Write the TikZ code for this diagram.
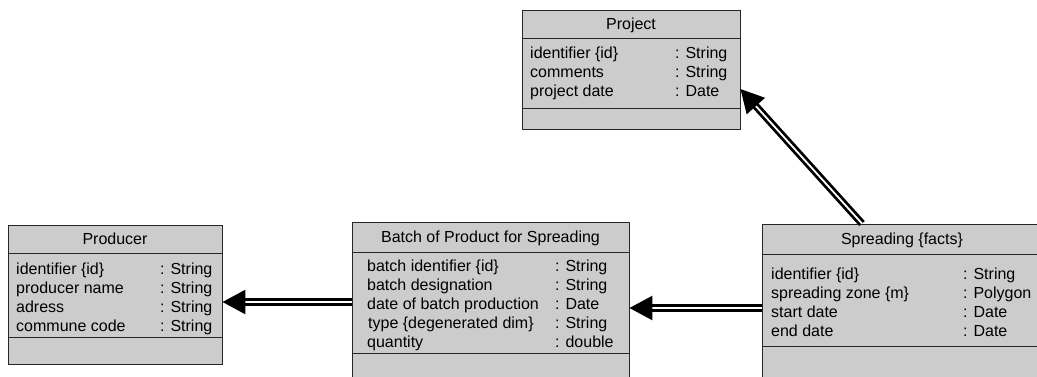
\documentclass[tikz,border=0pt]{standalone}
\usepackage{fontspec}
\setmainfont{Liberation Sans}
\usetikzlibrary{arrows.meta}
\definecolor{classGray}{RGB}{204,204,204}

\begin{document}
\begin{tikzpicture}[x=1pt,y=-1pt]

\def\rowsep{19pt}

\tikzstyle{umlClass}=[rectangle,draw=black!85,fill=classGray,line width=0.9pt,inner sep=0pt]
\tikzstyle{umlLine}=[draw=black!85,line width=0.9pt]
\tikzstyle{umlTitle}=[inner sep=0pt,text height=11.5pt,text depth=0pt,font=\fontsize{16}{\rowsep}\selectfont]
\tikzstyle{umlAttr}=[inner sep=0pt,anchor=base west,font=\fontsize{16}{\rowsep}\selectfont]
\tikzstyle{umlArrow}=[draw=black,line width=2.8pt,double=white,double distance=1.8pt,-{Triangle[length=23pt,width=24pt]}]

\useasboundingbox (0,0) rectangle (1037,376);

%Classes
\node[umlClass,minimum width=218pt,minimum height=119pt] (project) at (631,69.5) {};
\node[umlClass,minimum width=214pt,minimum height=139pt] (producer) at (115,294.5) {};
\node[umlClass,minimum width=277pt,minimum height=162pt] (batch) at (490.5,303) {};
\node[umlClass,minimum width=280pt,minimum height=160pt] (spreading) at (902,304) {};

%Compartments
\draw[umlLine] (project.west |- 0,38) -- (project.east |- 0,38);
\draw[umlLine] (project.west |- 0,108) -- (project.east |- 0,108);
\draw[umlLine] (producer.west |- 0,253) -- (producer.east |- 0,253);
\draw[umlLine] (producer.west |- 0,337) -- (producer.east |- 0,337);
\draw[umlLine] (batch.west |- 0,252) -- (batch.east |- 0,252);
\draw[umlLine] (batch.west |- 0,353) -- (batch.east |- 0,353);
\draw[umlLine] (spreading.west |- 0,254) -- (spreading.east |- 0,254);
\draw[umlLine] (spreading.west |- 0,346) -- (spreading.east |- 0,346);

%Titles
\node[umlTitle] (projectTitle) at (project.center |- 0,24) {Project};
\node[umlTitle] (producerTitle) at (producer.center |- 0,239) {Producer};
\node[umlTitle] (batchTitle) at (batch.center |- 0,237) {Batch of Product for Spreading};
\node[umlTitle] (spreadingTitle) at (spreading.center |- 0,239) {Spreading \{facts\}};

%Attributes
\node[umlAttr] (projectAttr) at (530,58.8) {\begin{tabular}[t]{@{}p{145pt}@{}l@{}}
identifier \{id\} & : String\\
comments & : String\\
project date & : Date
\end{tabular}};
\node[umlAttr] (producerAttr) at (16,274) {\begin{tabular}[t]{@{}p{144pt}@{}l@{}}
identifier \{id\} & : String\\
producer name & : String\\
adress & : String\\
commune code & : String
\end{tabular}};
\node[umlAttr] (batchAttr) at (367,271) {\begin{tabular}[t]{@{}p{188pt}@{}l@{}}
batch identifier \{id\} & : String\\
batch designation & : String\\
date of batch production & : Date\\
\hspace{1pt}type \{degenerated dim\} & : String\\
quantity & : double
\end{tabular}};
\node[umlAttr] (spreadingAttr) at (771,279) {\begin{tabular}[t]{@{}p{192pt}@{}l@{}}
identifier \{id\} & : String\\
spreading zone \{m\} & : Polygon\\
start date & : Date\\
end date & : Date
\end{tabular}};

%Associations
\draw[umlArrow] (batch.west |- 0,302) -- (producer.east |- 0,302);
\draw[umlArrow] (spreading.west |- 0,308) -- (batch.east |- 0,308);
\draw[umlArrow] (spreading.north -| 862,0) -- (project.east |- 0,89);

\end{tikzpicture}
\end{document}
